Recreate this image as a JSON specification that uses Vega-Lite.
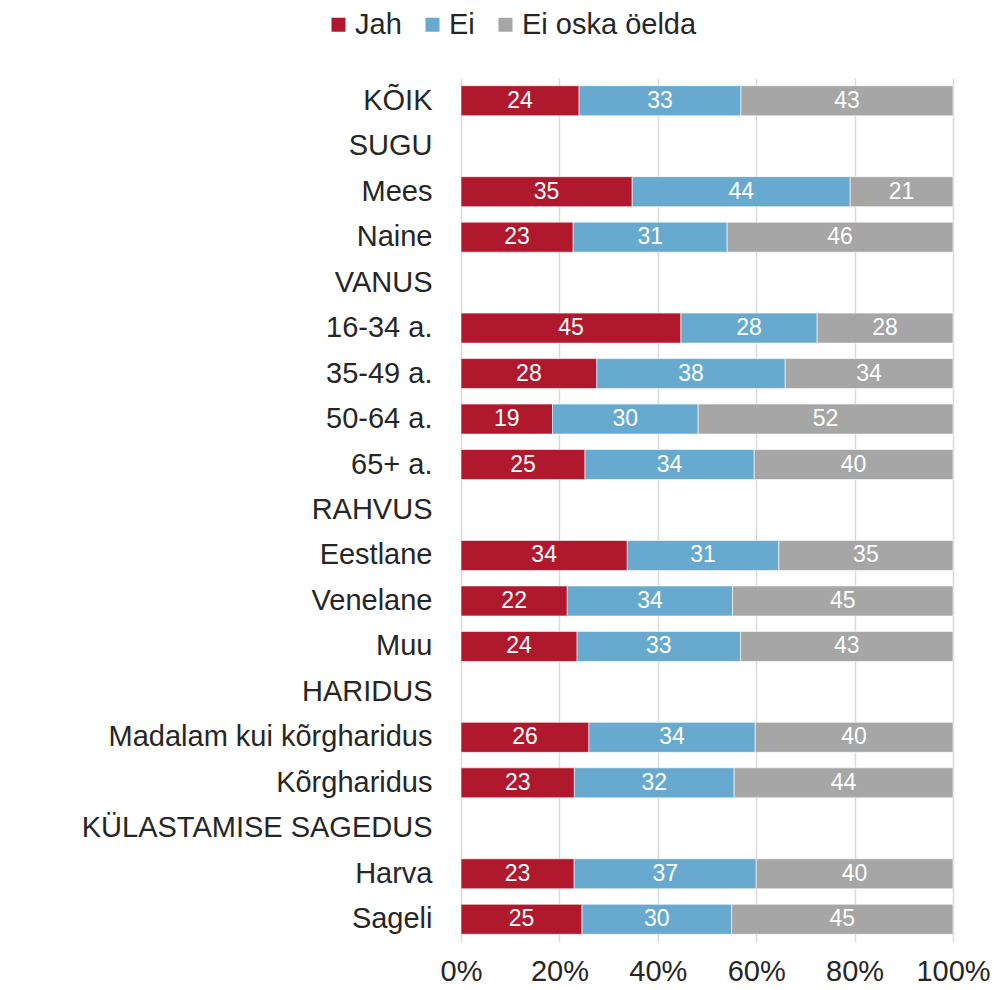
{
  "$schema": "https://vega.github.io/schema/vega-lite/v6.json",
  "autosize": {"type": "none"},
  "width": 492,
  "height": 864,
  "padding": {"left": 461, "top": 78, "right": 41, "bottom": 48},
  "background": "#ffffff",
  "config": {
    "font": "Liberation Sans",
    "view": {"stroke": null}
  },
  "data": {
    "values": [
      {"grupp": "KÕIK", "vastus": "Jah", "n": 1, "v": 24.0},
      {"grupp": "KÕIK", "vastus": "Ei", "n": 2, "v": 32.9},
      {"grupp": "KÕIK", "vastus": "Ei oska öelda", "n": 3, "v": 43.1},
      {"grupp": "Mees", "vastus": "Jah", "n": 1, "v": 34.8},
      {"grupp": "Mees", "vastus": "Ei", "n": 2, "v": 44.3},
      {"grupp": "Mees", "vastus": "Ei oska öelda", "n": 3, "v": 20.9},
      {"grupp": "Naine", "vastus": "Jah", "n": 1, "v": 22.8},
      {"grupp": "Naine", "vastus": "Ei", "n": 2, "v": 31.3},
      {"grupp": "Naine", "vastus": "Ei oska öelda", "n": 3, "v": 45.9},
      {"grupp": "16-34 a.", "vastus": "Jah", "n": 1, "v": 44.7},
      {"grupp": "16-34 a.", "vastus": "Ei", "n": 2, "v": 27.7},
      {"grupp": "16-34 a.", "vastus": "Ei oska öelda", "n": 3, "v": 27.6},
      {"grupp": "35-49 a.", "vastus": "Jah", "n": 1, "v": 27.6},
      {"grupp": "35-49 a.", "vastus": "Ei", "n": 2, "v": 38.3},
      {"grupp": "35-49 a.", "vastus": "Ei oska öelda", "n": 3, "v": 34.1},
      {"grupp": "50-64 a.", "vastus": "Jah", "n": 1, "v": 18.6},
      {"grupp": "50-64 a.", "vastus": "Ei", "n": 2, "v": 29.6},
      {"grupp": "50-64 a.", "vastus": "Ei oska öelda", "n": 3, "v": 51.8},
      {"grupp": "65+ a.", "vastus": "Jah", "n": 1, "v": 25.2},
      {"grupp": "65+ a.", "vastus": "Ei", "n": 2, "v": 34.4},
      {"grupp": "65+ a.", "vastus": "Ei oska öelda", "n": 3, "v": 40.4},
      {"grupp": "Eestlane", "vastus": "Jah", "n": 1, "v": 33.8},
      {"grupp": "Eestlane", "vastus": "Ei", "n": 2, "v": 30.8},
      {"grupp": "Eestlane", "vastus": "Ei oska öelda", "n": 3, "v": 35.4},
      {"grupp": "Venelane", "vastus": "Jah", "n": 1, "v": 21.6},
      {"grupp": "Venelane", "vastus": "Ei", "n": 2, "v": 33.6},
      {"grupp": "Venelane", "vastus": "Ei oska öelda", "n": 3, "v": 44.8},
      {"grupp": "Muu", "vastus": "Jah", "n": 1, "v": 23.6},
      {"grupp": "Muu", "vastus": "Ei", "n": 2, "v": 33.2},
      {"grupp": "Muu", "vastus": "Ei oska öelda", "n": 3, "v": 43.2},
      {"grupp": "Madalam kui kõrgharidus", "vastus": "Jah", "n": 1, "v": 26.0},
      {"grupp": "Madalam kui kõrgharidus", "vastus": "Ei", "n": 2, "v": 33.8},
      {"grupp": "Madalam kui kõrgharidus", "vastus": "Ei oska öelda", "n": 3, "v": 40.2},
      {"grupp": "Kõrgharidus", "vastus": "Jah", "n": 1, "v": 23.0},
      {"grupp": "Kõrgharidus", "vastus": "Ei", "n": 2, "v": 32.4},
      {"grupp": "Kõrgharidus", "vastus": "Ei oska öelda", "n": 3, "v": 44.4},
      {"grupp": "Harva", "vastus": "Jah", "n": 1, "v": 23.0},
      {"grupp": "Harva", "vastus": "Ei", "n": 2, "v": 37.0},
      {"grupp": "Harva", "vastus": "Ei oska öelda", "n": 3, "v": 40.0},
      {"grupp": "Sageli", "vastus": "Jah", "n": 1, "v": 24.6},
      {"grupp": "Sageli", "vastus": "Ei", "n": 2, "v": 30.4},
      {"grupp": "Sageli", "vastus": "Ei oska öelda", "n": 3, "v": 45.0}
    ]
  },
  "encoding": {
    "y": {
      "field": "grupp",
      "type": "nominal",
      "sort": null,
      "scale": {
        "domain": ["KÕIK", "SUGU", "Mees", "Naine", "VANUS", "16-34 a.", "35-49 a.", "50-64 a.", "65+ a.", "RAHVUS", "Eestlane", "Venelane", "Muu", "HARIDUS", "Madalam kui kõrgharidus", "Kõrgharidus", "KÜLASTAMISE SAGEDUS", "Harva", "Sageli"],
        "paddingInner": 0.34,
        "paddingOuter": 0.17
      },
      "axis": {
        "title": null,
        "domain": false,
        "ticks": false,
        "grid": false,
        "labelFont": "Liberation Sans",
        "labelFontSize": 29,
        "labelColor": "#262626",
        "labelPadding": 29,
        "labelLimit": 600
      }
    },
    "x": {
      "field": "v",
      "type": "quantitative",
      "stack": "normalize",
      "scale": {"domain": [0, 1], "nice": false},
      "axis": {
        "title": null,
        "format": ".0%",
        "values": [0, 0.2, 0.4, 0.6, 0.8, 1],
        "domain": false,
        "ticks": false,
        "grid": true,
        "gridColor": "#d9d9d9",
        "gridWidth": 1.5,
        "labelFontSize": 29,
        "labelColor": "#262626",
        "labelPadding": 15,
        "labelFlush": false,
        "labelOverlap": false
      }
    },
    "order": {"field": "n", "type": "quantitative"},
    "color": {
      "field": "vastus",
      "type": "nominal",
      "sort": ["Jah", "Ei", "Ei oska öelda"],
      "scale": {
        "domain": ["Jah", "Ei", "Ei oska öelda"],
        "range": ["#B0192D", "#67A9CF", "#A6A6A6"]
      },
      "legend": {
        "title": null,
        "orient": "none",
        "direction": "horizontal",
        "legendX": -137,
        "legendY": -68,
        "padding": 0,
        "symbolType": "square",
        "symbolSize": 196,
        "symbolStrokeWidth": 0,
        "labelFontSize": 29,
        "labelColor": "#262626",
        "labelOffset": 2,
        "columnPadding": 16,
        "labelLimit": 400
      }
    }
  },
  "layer": [
    {
      "mark": {"type": "bar", "stroke": "#ffffff", "strokeWidth": 0.6}
    },
    {
      "mark": {"type": "text", "fontSize": 23, "align": "center", "baseline": "middle", "font": "Liberation Sans"},
      "encoding": {
        "x": {"field": "v", "type": "quantitative", "stack": "normalize", "bandPosition": 0.5},
        "text": {"field": "v", "type": "quantitative", "format": ".0f"},
        "fill": {"value": "#ffffff"}
      }
    }
  ]
}
